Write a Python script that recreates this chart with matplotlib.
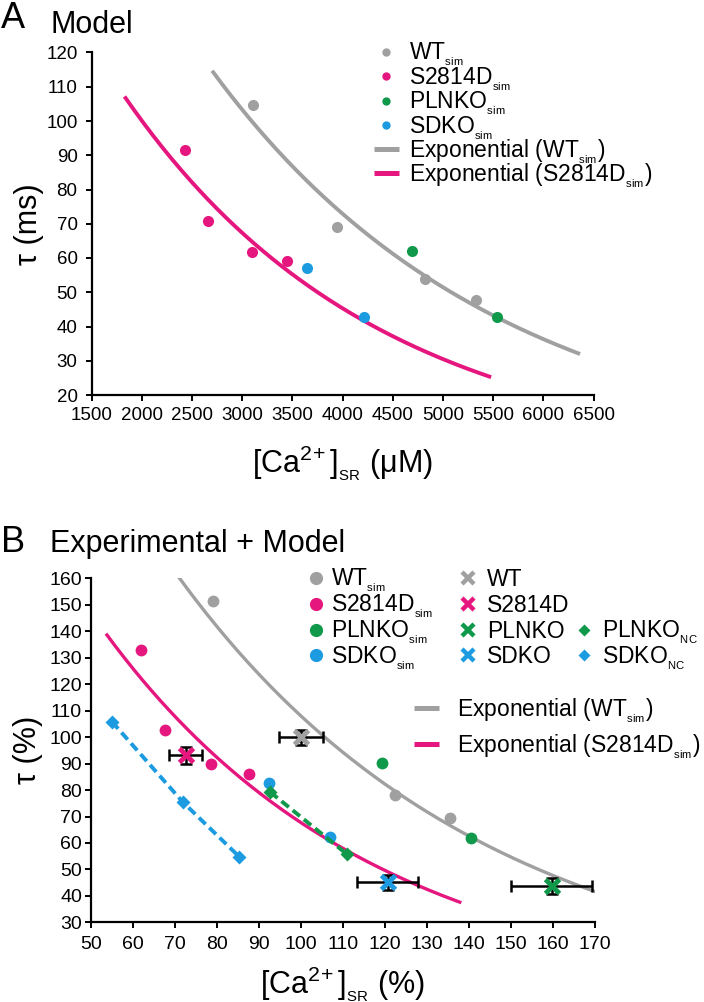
import numpy as np
import matplotlib
matplotlib.use('Agg')
import matplotlib.pyplot as plt
from matplotlib.lines import Line2D

plt.rcParams['font.family'] = ['Liberation Sans', 'DejaVu Sans']
plt.rcParams['mathtext.default'] = 'regular'

# colours
GRAY = '#A0A0A0'
PINK = '#E5177F'
GREEN = '#10994A'
BLUE = '#1C9BE0'

# ---- panel A data (model, absolute) ----
wt_sim_ca = [3111, 3946, 4818, 5334]
wt_sim_tau = [104.6, 69.0, 53.8, 47.8]
s2814d_sim_ca = [2435, 2659, 3097, 3452]
s2814d_sim_tau = [91.6, 70.8, 61.8, 59.2]
plnko_sim_ca = [4693, 5540]
plnko_sim_tau = [62.0, 42.7]
sdko_sim_ca = [3644, 4213]
sdko_sim_tau = [57.0, 42.9]
# x span over which each trendline is drawn
fit_span_wt_a = [2713, 6348]
fit_span_s28_a = [1840, 5462]

# ---- panel B data (normalised, %) ----
wt_sim_ca_pct = [79.0, 100.0, 122.3, 135.5]
wt_sim_tau_pct = [151.5, 100.0, 78.1, 69.6]
s2814d_sim_ca_pct = [61.8, 67.7, 78.6, 87.7]
s2814d_sim_tau_pct = [132.9, 102.7, 89.8, 86.2]
plnko_sim_ca_pct = [119.3, 140.5]
plnko_sim_tau_pct = [90.1, 62.0]
sdko_sim_ca_pct = [92.4, 106.8]
sdko_sim_tau_pct = [82.7, 62.3]
plnko_nc_ca = [92.7, 110.9]
plnko_nc_tau = [79.2, 55.8]
sdko_nc_ca = [55.0, 71.9, 85.3]
sdko_nc_tau = [105.8, 75.4, 54.8]
# experiments: WT, S2814D, PLNKO, SDKO
exp_names = ['WT', 'S2814D', 'PLNKO', 'SDKO']
exp_colors = [GRAY, PINK, GREEN, BLUE]
exp_ca = [100.0, 72.5, 159.7, 120.6]
exp_tau = [100.0, 93.1, 43.9, 45.2]
exp_ca_err = [5.2, 4.0, 9.6, 7.3]
exp_tau_err = [2.8, 3.3, 3.0, 2.8]
fit_span_wt_b = [71.1, 170]
fit_span_s28_b = [53.8, 137.8]

SIM = '$_{_{sim}}$'
NC = '$_{_{NC}}$'
CA_LABEL = '[Ca$^{2\\!+}$]$_{_{SR}}$'

W, H = 704, 1002
fig = plt.figure(figsize=(W / 100, H / 100), dpi=100)


def fx(px):
    return px / W


def fy(py):
    return 1 - py / H


def exp_trend(x, y, span):
    # exponential trendline, least squares on log(y)
    b, ln_a = np.polyfit(x, np.log(y), 1)
    xs = np.linspace(span[0], span[1], 200)
    return xs, np.exp(ln_a + b * xs)


def style_axes(ax, tick_size, ypad, xpad):
    for s in ['top', 'right']:
        ax.spines[s].set_visible(False)
    for s in ['left', 'bottom']:
        ax.spines[s].set_linewidth(1.6)
    ax.tick_params(axis='both', direction='out', length=4, width=1.4,
                   labelsize=tick_size)
    ax.tick_params(axis='y', pad=ypad)
    ax.tick_params(axis='x', pad=xpad)


def legend_marker(px, py, tx, label, size=16.5, **kw):
    fig.add_artist(Line2D([fx(px)], [fy(py)], transform=fig.transFigure,
                          linestyle='none', **kw))
    fig.text(fx(tx), fy(py + 8), label, fontsize=size, va='baseline')


def legend_line(x0, x1, py, tx, label, color, size=16.5):
    fig.add_artist(Line2D([fx(x0), fx(x1)], [fy(py), fy(py)],
                          transform=fig.transFigure, color=color, lw=3.6,
                          solid_capstyle='butt'))
    fig.text(fx(tx), fy(py + 8), label, fontsize=size, va='baseline')


# ================= panel A =================
axA = fig.add_axes([fx(91.5), fy(395), fx(593.5) - fx(91.5), fy(52.5) - fy(395)])
xs, ys = exp_trend(wt_sim_ca, wt_sim_tau, fit_span_wt_a)
axA.plot(xs, ys, color=GRAY, lw=2.8)
xs, ys = exp_trend(s2814d_sim_ca, s2814d_sim_tau, fit_span_s28_a)
axA.plot(xs, ys, color=PINK, lw=2.8)
ms_a = 8
axA.plot(wt_sim_ca, wt_sim_tau, 'o', color=GRAY, ms=ms_a, mec='none')
axA.plot(s2814d_sim_ca, s2814d_sim_tau, 'o', color=PINK, ms=ms_a, mec='none')
axA.plot(plnko_sim_ca, plnko_sim_tau, 'o', color=GREEN, ms=ms_a, mec='none')
axA.plot(sdko_sim_ca, sdko_sim_tau, 'o', color=BLUE, ms=ms_a, mec='none')
axA.set_xlim(1500, 6500)
axA.set_ylim(20, 120)
axA.set_xticks(np.arange(1500, 6501, 500))
axA.set_yticks(np.arange(20, 121, 10))
style_axes(axA, 13.5, 6, 5)
axA.set_ylabel('τ (ms)', fontsize=22)
axA.yaxis.set_label_coords(-0.095, 0.5)
axA.set_xlabel(CA_LABEL + ' (μM)', fontsize=22)
axA.xaxis.set_label_coords(0.5, -0.14)

fig.text(fx(1), fy(28), 'A', fontsize=26, va='baseline')
fig.text(fx(50), fy(33), 'Model', fontsize=22, va='baseline')

rows_a = [51.7, 76, 100.7, 125]
for py, lab, c in zip(rows_a, ['WT', 'S2814D', 'PLNKO', 'SDKO'],
                      [GRAY, PINK, GREEN, BLUE]):
    legend_marker(386.5, py, 409, lab + SIM, marker='o', color=c, ms=6, mec='none')
legend_line(374, 399, 149, 409, 'Exponential (WT' + SIM + ')', GRAY)
legend_line(374, 399, 173.3, 409, 'Exponential (S2814D' + SIM + ')', PINK)

# ================= panel B =================
axB = fig.add_axes([fx(91), fy(922.4), fx(595) - fx(91), fy(578.3) - fy(922.4)])
xs, ys = exp_trend(wt_sim_ca_pct, wt_sim_tau_pct, fit_span_wt_b)
axB.plot(xs, ys, color=GRAY, lw=2.4)
xs, ys = exp_trend(s2814d_sim_ca_pct, s2814d_sim_tau_pct, fit_span_s28_b)
axB.plot(xs, ys, color=PINK, lw=2.4)
ms_b = 8.5
axB.plot(wt_sim_ca_pct, wt_sim_tau_pct, 'o', color=GRAY, ms=ms_b, mec='none')
axB.plot(s2814d_sim_ca_pct, s2814d_sim_tau_pct, 'o', color=PINK, ms=ms_b, mec='none')
axB.plot(plnko_sim_ca_pct, plnko_sim_tau_pct, 'o', color=GREEN, ms=ms_b, mec='none')
axB.plot(sdko_sim_ca_pct, sdko_sim_tau_pct, 'o', color=BLUE, ms=ms_b, mec='none')
dash = (0, (2.4, 1.3))
axB.plot(plnko_nc_ca, plnko_nc_tau, color=GREEN, lw=2.8, ls=dash,
         dash_capstyle='butt', marker='D', ms=7, mec='none')
axB.plot(sdko_nc_ca, sdko_nc_tau, color=BLUE, lw=2.8, ls=dash,
         dash_capstyle='butt', marker='D', ms=7, mec='none')
for i in range(len(exp_names)):
    axB.errorbar(exp_ca[i], exp_tau[i], xerr=exp_ca_err[i], yerr=exp_tau_err[i],
                 fmt='none', ecolor='black', elinewidth=1.8, capsize=4,
                 capthick=1.8, zorder=4)
    axB.plot(exp_ca[i], exp_tau[i], 'x', color=exp_colors[i], ms=10, mew=3.5,
             zorder=5)
axB.set_xlim(50, 170)
axB.set_ylim(30, 160)
axB.set_xticks(np.arange(50, 171, 10))
axB.set_yticks(np.arange(30, 161, 10))
style_axes(axB, 14, 2.5, 6)
axB.set_ylabel('τ (%)', fontsize=22)
axB.yaxis.set_label_coords(-0.095, 0.5)
axB.set_xlabel(CA_LABEL + ' (%)', fontsize=22)
axB.xaxis.set_label_coords(0.5, -0.12)

fig.text(fx(1), fy(551.7), 'B', fontsize=26, va='baseline')
fig.text(fx(50), fy(551.7), 'Experimental + Model', fontsize=22, va='baseline')

rows_b = [577.5, 603.5, 629.5, 655]
for py, lab, c in zip(rows_b, ['WT', 'S2814D', 'PLNKO', 'SDKO'],
                      [GRAY, PINK, GREEN, BLUE]):
    legend_marker(316, py, 331, lab + SIM, marker='o', color=c, ms=9.5, mec='none')
for py, lab, c in zip(rows_b, exp_names, exp_colors):
    legend_marker(468, py, 487, lab, marker='x', color=c, ms=9, mew=3.2)
legend_marker(584, rows_b[2], 602, 'PLNKO' + NC, marker='D', color=GREEN, ms=6.5, mec='none')
legend_marker(584, rows_b[3], 602, 'SDKO' + NC, marker='D', color=BLUE, ms=6.5, mec='none')
legend_line(414, 439, 708, 457, 'Exponential (WT' + SIM + ')', GRAY)
legend_line(414, 439, 744, 457, 'Exponential (S2814D' + SIM + ')', PINK)

fig.savefig('out.png', dpi=100)
